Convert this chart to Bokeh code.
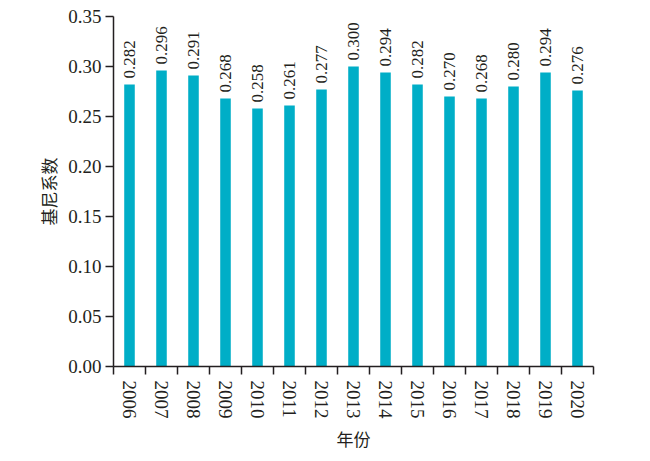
import math
from bokeh.plotting import figure
from bokeh.models import Range1d, FixedTicker, ColumnDataSource
from bokeh.core.properties import value
from bokeh.embed import file_html
from bokeh.resources import INLINE

years = ["2006", "2007", "2008", "2009", "2010", "2011", "2012", "2013",
         "2014", "2015", "2016", "2017", "2018", "2019", "2020"]
gini = [0.282, 0.296, 0.291, 0.268, 0.258, 0.261, 0.277, 0.300,
        0.294, 0.282, 0.270, 0.268, 0.280, 0.294, 0.276]
y_ticks = [0.00, 0.05, 0.10, 0.15, 0.20, 0.25, 0.30, 0.35]
y_tick_labels = ["0.00", "0.05", "0.10", "0.15", "0.20", "0.25", "0.30", "0.35"]
x_title = "年份"
y_title = "基尼系数"

BAR = "#00AEC7"
INK = "#231F20"
SERIF = "Liberation Serif"
CJK = "Noto Sans CJK SC"

idx = list(range(len(years)))
src = ColumnDataSource(dict(x=idx, y=gini, label=[f"{v:.3f}" for v in gini]))

p = figure(width=634, height=453, output_backend="svg", toolbar_location=None,
           x_range=Range1d(-0.5, len(years) - 0.5), y_range=Range1d(0, 0.35),
           min_border_left=113, min_border_right=41, min_border_top=16,
           min_border_bottom=85)
p.outline_line_color = None
p.xgrid.grid_line_color = None
p.ygrid.grid_line_color = None

p.vbar(x="x", top="y", width=0.33, source=src, fill_color=BAR, line_color=None)
p.text(x="x", y="y", text="label", source=src, angle=math.pi / 2,
       y_offset=-6, text_align="left", text_baseline="middle",
       text_font=value(SERIF), text_font_size="17px", text_color=INK)

# x axis: labels at category centres, tick marks at category boundaries
xa = p.xaxis[0]
xa.ticker = FixedTicker(ticks=idx, minor_ticks=[i - 0.5 for i in range(len(years) + 1)])
xa.major_label_overrides = {i: y for i, y in enumerate(years)}
xa.major_label_orientation = "vertical"
xa.major_tick_line_color = None
xa.major_tick_in = 0
xa.major_tick_out = 8
xa.minor_tick_in = 0
xa.minor_tick_out = 8
xa.minor_tick_line_color = INK
xa.minor_tick_line_width = 1.5
xa.axis_line_color = INK
xa.axis_line_width = 1.5
xa.major_label_standoff = 6
xa.major_label_text_font = SERIF
xa.major_label_text_font_size = "19px"
xa.major_label_text_color = INK
xa.axis_label = x_title
xa.axis_label_text_font = CJK
xa.axis_label_text_font_size = "17px"
xa.axis_label_text_font_style = "normal"
xa.axis_label_text_color = INK
xa.axis_label_standoff = 4

ya = p.yaxis[0]
ya.ticker = FixedTicker(ticks=y_ticks, minor_ticks=[])
ya.major_label_overrides = {t: l for t, l in zip(y_ticks, y_tick_labels)}
ya.major_tick_in = 0
ya.major_tick_out = 8
ya.major_tick_line_color = INK
ya.major_tick_line_width = 1.5
ya.axis_line_color = INK
ya.axis_line_width = 1.5
ya.major_label_standoff = 4
ya.major_label_text_font = SERIF
ya.major_label_text_font_size = "19px"
ya.major_label_text_color = INK
ya.axis_label = y_title
ya.axis_label_text_font = CJK
ya.axis_label_text_font_size = "17px"
ya.axis_label_text_font_style = "normal"
ya.axis_label_text_color = INK
ya.axis_label_standoff = 4

open("out.html", "w").write(file_html(p, INLINE))
